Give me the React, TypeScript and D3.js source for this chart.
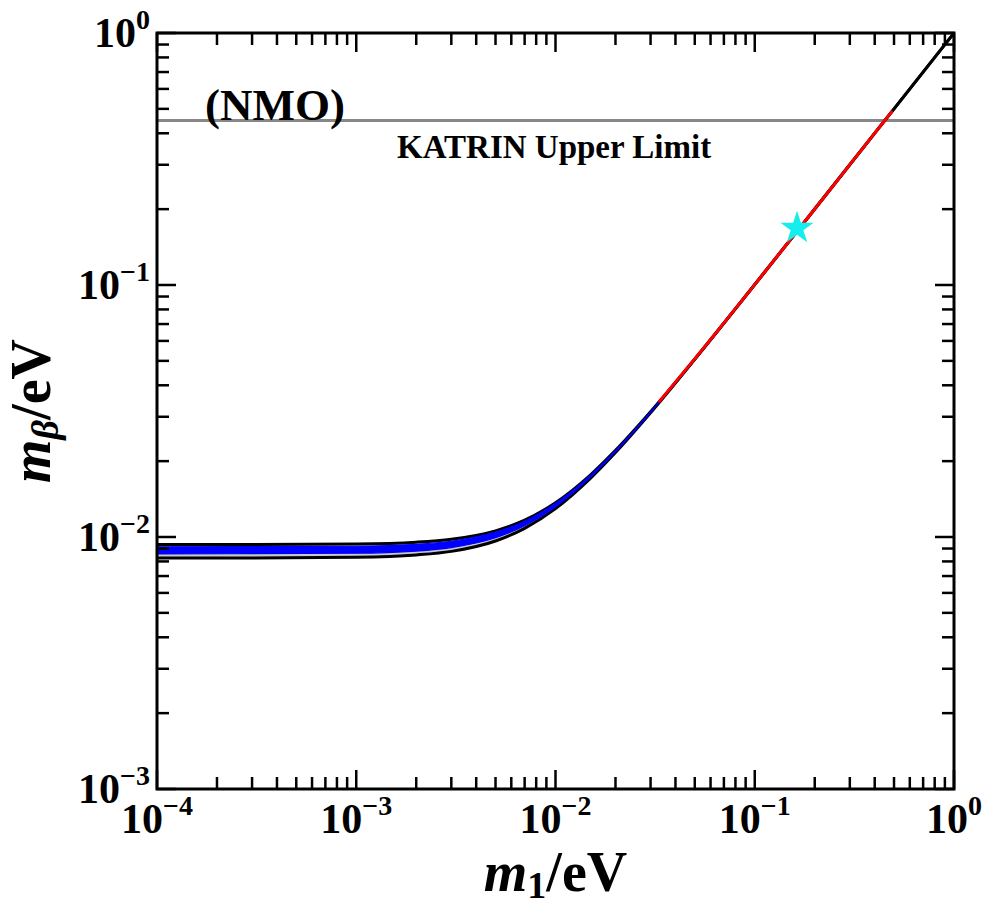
import React from "react";
import * as d3 from "d3";

const width = 997;
const height = 907;
const margin = { top: 33, right: 43, bottom: 118, left: 157 };

// lightest neutrino mass grid (eV) and the 3-sigma boundaries of m_beta
const m1Grid = [1e-4, 3e-4, 1e-3, 2e-3, 3e-3, 5e-3, 7e-3, 1e-2, 1.5e-2, 2e-2, 3e-2, 5e-2, 0.1, 0.2, 0.5, 1];
const upperBound = [0.00933, 0.00933, 0.00938, 0.00954, 0.0098, 0.01058, 0.01166, 0.01368, 0.01766, 0.02207, 0.03142, 0.05086, 0.10043, 0.20022, 0.50009, 1.0];
const lowerBound = [0.00825, 0.00825, 0.00831, 0.00849, 0.00877, 0.00964, 0.01082, 0.01296, 0.01712, 0.02163, 0.03111, 0.05067, 0.10034, 0.2002, 0.50007, 1.0];

// blue scatter band (model points)
const blueM1 = [1e-4, 1e-3, 2e-3, 3e-3, 5e-3, 7e-3, 1e-2, 1.5e-2, 2e-2, 3e-2, 4.5e-2];
const blueUpper = [0.00914, 0.00919, 0.00935, 0.00962, 0.01045, 0.01155, 0.0136, 0.0176, 0.022, 0.03138, 0.04592];
const blueLower = [0.00857, 0.00862, 0.00879, 0.00908, 0.00993, 0.01108, 0.01318, 0.01728, 0.02176, 0.03119, 0.04581];

// red segment
const redM1 = [0.033, 0.05, 0.1, 0.2, 0.3, 0.49];
const redMb = [0.0343, 0.0509, 0.1004, 0.2002, 0.3002, 0.4901];

const katrinLimit = 0.45;
const bestFit = { m1: 0.163, mb: 0.168 };

const xTicks = [1e-4, 1e-3, 1e-2, 1e-1, 1];
const xTickExp = ["−4", "−3", "−2", "−1", "0"];
const yTicks = [1e-3, 1e-2, 1e-1, 1];
const yTickExp = ["−3", "−2", "−1", "0"];

const font = "'Liberation Serif', 'Times New Roman', serif";

const minorTicks = (lo: number, hi: number) => {
  const out: number[] = [];
  for (let e = lo; e < hi; e++) {
    for (let k = 2; k <= 9; k++) out.push(k * Math.pow(10, e));
  }
  return out;
};

const App = () => {
  const innerWidth = width - margin.left - margin.right;
  const innerHeight = height - margin.top - margin.bottom;

  const x = d3.scaleLog().domain([1e-4, 1]).range([0, innerWidth]);
  const y = d3.scaleLog().domain([1e-3, 1]).range([innerHeight, 0]);

  const line = d3
    .line<[number, number]>()
    .x((d) => x(d[0]))
    .y((d) => y(d[1]))
    .curve(d3.curveMonotoneX);

  const band = d3
    .area<[number, number, number]>()
    .x((d) => x(d[0]))
    .y0((d) => y(d[1]))
    .y1((d) => y(d[2]))
    .curve(d3.curveMonotoneX);

  const grayBand = m1Grid.map((m, i) => [m, lowerBound[i], upperBound[i]] as [number, number, number]);
  const blueBand = blueM1.map((m, i) => [m, blueLower[i], blueUpper[i]] as [number, number, number]);
  const upperLine = m1Grid.map((m, i) => [m, upperBound[i]] as [number, number]);
  const lowerLine = m1Grid.map((m, i) => [m, lowerBound[i]] as [number, number]);
  const redLine = redM1.map((m, i) => [m, redMb[i]] as [number, number]);

  const star = d3.symbol().type(d3.symbolStar).size(340)();

  const xMinor = minorTicks(-4, 0);
  const yMinor = minorTicks(-3, 0);
  const major = 19;
  const minor = 12;

  return (
    <svg width={width} height={height} style={{ position: "absolute", left: 0, top: 0 }}>
      <rect width="100%" height="100%" fill="white" />
      <defs>
        <clipPath id="plot-clip">
          <rect width={innerWidth} height={innerHeight} />
        </clipPath>
      </defs>
      <g transform={`translate(${margin.left}, ${margin.top})`}>
        <g clipPath="url(#plot-clip)">
          <line x1={0} x2={innerWidth} y1={y(katrinLimit)} y2={y(katrinLimit)} stroke="#888" strokeWidth={3} />
          <path d={band(grayBand) || ""} fill="#c9c9c9" />
          <path d={line(upperLine) || ""} fill="none" stroke="black" strokeWidth={3} />
          <path d={line(lowerLine) || ""} fill="none" stroke="black" strokeWidth={3} />
          <path d={band(blueBand) || ""} fill="#0000ff" stroke="#0000ff" strokeWidth={1.2} />
          <path d={line(redLine) || ""} fill="none" stroke="#ff0000" strokeWidth={3} />
          <path d={star || ""} transform={`translate(${x(bestFit.m1)}, ${y(bestFit.mb)})`} fill="#14eeee" />
        </g>

        <text x={48} y={87} fontFamily={font} fontWeight="bold" fontSize={45}>(NMO)</text>
        <text x={240} y={125} fontFamily={font} fontWeight="bold" fontSize={33}>KATRIN Upper Limit</text>

        {/* ticks, mirrored on all four sides */}
        {xTicks.map((t) => (
          <g key={"xM" + t}>
            <line x1={x(t)} x2={x(t)} y1={innerHeight} y2={innerHeight - major} stroke="black" strokeWidth={2.5} />
            <line x1={x(t)} x2={x(t)} y1={0} y2={major} stroke="black" strokeWidth={2.5} />
          </g>
        ))}
        {xMinor.map((t) => (
          <g key={"xm" + t}>
            <line x1={x(t)} x2={x(t)} y1={innerHeight} y2={innerHeight - minor} stroke="black" strokeWidth={2.5} />
            <line x1={x(t)} x2={x(t)} y1={0} y2={minor} stroke="black" strokeWidth={2.5} />
          </g>
        ))}
        {yTicks.map((t) => (
          <g key={"yM" + t}>
            <line x1={0} x2={major} y1={y(t)} y2={y(t)} stroke="black" strokeWidth={2.5} />
            <line x1={innerWidth} x2={innerWidth - major} y1={y(t)} y2={y(t)} stroke="black" strokeWidth={2.5} />
          </g>
        ))}
        {yMinor.map((t) => (
          <g key={"ym" + t}>
            <line x1={0} x2={minor} y1={y(t)} y2={y(t)} stroke="black" strokeWidth={2.5} />
            <line x1={innerWidth} x2={innerWidth - minor} y1={y(t)} y2={y(t)} stroke="black" strokeWidth={2.5} />
          </g>
        ))}

        <rect width={innerWidth} height={innerHeight} fill="none" stroke="black" strokeWidth={3} />

        {xTicks.map((t, i) => (
          <text key={"xl" + t} x={x(t)} y={innerHeight + 44} textAnchor="middle" fontFamily={font} fontWeight="bold" fontSize={42}>
            <tspan>10</tspan>
            <tspan fontSize={28} dy={-18}>{xTickExp[i]}</tspan>
          </text>
        ))}
        {yTicks.map((t, i) => (
          <text key={"yl" + t} x={-7} y={y(t) + 14} textAnchor="end" fontFamily={font} fontWeight="bold" fontSize={42}>
            <tspan>10</tspan>
            <tspan fontSize={28} dy={-18}>{yTickExp[i]}</tspan>
          </text>
        ))}

        <text x={innerWidth / 2} y={innerHeight + 102} textAnchor="middle" fontFamily={font} fontWeight="bold" fontSize={56}>
          <tspan fontStyle="italic">m</tspan>
          <tspan fontSize={38} dy={7}>1</tspan>
          <tspan dy={-7}>/eV</tspan>
        </text>
        <text
          transform={`translate(${-107}, ${innerHeight / 2}) rotate(-90)`}
          textAnchor="middle"
          fontFamily={font}
          fontWeight="bold"
          fontSize={56}
        >
          <tspan fontStyle="italic">m</tspan>
          <tspan fontStyle="italic" fontSize={38} dy={8}>β</tspan>
          <tspan dy={-8}>/eV</tspan>
        </text>
      </g>
    </svg>
  );
};

export default App;
